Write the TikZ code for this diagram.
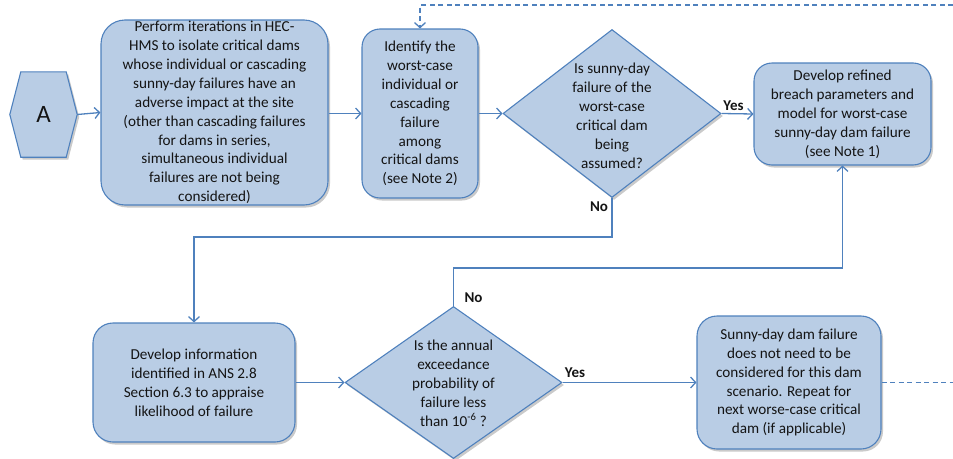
\documentclass[tikz,border=0pt]{standalone}
\usepackage{fontspec}
\setmainfont{Carlito}
\usetikzlibrary{arrows.meta,shapes.geometric,shadows}
\definecolor{boxfill}{HTML}{B9CDE5}
\definecolor{boxline}{HTML}{4F81BD}
\definecolor{txtc}{HTML}{141414}
\begin{document}
\begin{tikzpicture}[x=1pt,y=-1pt,
  every node/.style={font=\fontsize{15.2}{18.9}\selectfont, text=txtc},
  shad/.style={drop shadow={shadow xshift=2pt, shadow yshift=-2.5pt, opacity=0.35, fill=black!60}},
  box/.style={draw=boxline, fill=boxfill, line width=1.1pt, rounded corners=20pt, align=center, inner sep=0pt, shad},
  dia/.style={diamond, draw=boxline, fill=boxfill, line width=1.1pt, inner sep=0pt, shad},
  lbl/.style={align=center, inner sep=0pt},
  yn/.style={inner sep=0pt, font=\fontsize{15}{17}\selectfont\bfseries},
  conn/.style={draw=boxline, line width=1.3pt, -{Straight Barb[length=5pt,width=11pt]}},
  dconn/.style={conn, dash pattern=on 5pt off 3.5pt},
  dline/.style={draw=boxline, line width=1.3pt, dash pattern=on 5pt off 3.5pt}
]
\useasboundingbox (0,0) rectangle (953,458);

% hexagon A
\node[inner sep=0pt, minimum width=67pt, minimum height=85pt] (hexA) at (43.5,114.5) {};
\fill[black!60, opacity=0.35] ([xshift=2pt,yshift=-2.5pt]hexA.west) -- ([xshift=13pt,yshift=-2.5pt]hexA.north west) -- ([xshift=-9pt,yshift=-2.5pt]hexA.north east) -- ([xshift=2pt,yshift=-2.5pt]hexA.east) -- ([xshift=-9pt,yshift=-2.5pt]hexA.south east) -- ([xshift=13pt,yshift=-2.5pt]hexA.south west) -- cycle;
\draw[boxline, fill=boxfill, line width=1.1pt] (hexA.west) -- ([xshift=11pt]hexA.north west) -- ([xshift=-11pt]hexA.north east) -- (hexA.east) -- ([xshift=-11pt]hexA.south east) -- ([xshift=11pt]hexA.south west) -- cycle;
\node[inner sep=0pt, font=\fontsize{25}{28}\selectfont] (hexAt) at (hexA) {A};

% boxes
\node[box, minimum width=227pt, minimum height=185pt, rounded corners=24pt] (b1) at (214.5,112.5) {Perform iterations in HEC-\\HMS to isolate critical dams\\whose individual or cascading\\sunny-day failures have an\\adverse impact at the site\\(other than cascading failures\\for dams in series,\\simultaneous individual\\failures are not being\\considered)};
\node[box, minimum width=116pt, minimum height=169pt, rounded corners=18pt] (b2) at (420,113.5) {Identify the\\worst-case\\individual or\\cascading\\failure\\among\\critical dams\\(see Note 2)};
\node[box, minimum width=177pt, minimum height=102pt, rounded corners=18pt] (b3) at (842.5,114) {Develop refined\\breach parameters and\\model for worst-case\\sunny-day dam failure\\(see Note 1)};
\node[box, minimum width=202pt, minimum height=119pt, rounded corners=20pt] (b4) at (194,382.5) {Develop information\\identified in ANS 2.8\\Section 6.3 to appraise\\likelihood of failure};
\node[box, minimum width=184pt, minimum height=133pt, rounded corners=20pt] (b5) at (789,382.5) {Sunny-day dam failure\\does not need to be\\considered for this dam\\scenario. Repeat for\\next worse-case critical\\dam (if applicable)};

% diamonds
\node[dia, minimum width=218pt, minimum height=168pt] (d1) at (612,113.5) {};
\node[lbl] (d1t) at (612,116) {Is sunny-day\\failure of the\\worst-case\\critical dam\\being\\assumed?};
\node[dia, minimum width=217pt, minimum height=152pt] (d2) at (453.5,382.5) {};
\node[lbl] (d2t) at (453.5,383) {Is the annual\\exceedance\\probability of\\failure less\\than 10\textsuperscript{-6} ?};

% helper coordinates
\coordinate (topR) at (953,5);
\coordinate (botR) at (953,382.5);
\coordinate (j1) at (612,237);
\coordinate (j2) at (453.5,268);

% connectors
\draw[conn] (hexA.east) -- (b1.west);
\draw[conn] (b1.east |- b2.west) -- (b2.west);
\draw[conn] (b2.east) -- (d1.west);
\draw[conn] (d1.east) -- (b3.west);
\draw[conn] (d1.south) -- (j1) -| (b4.north);
\draw[conn] (b4.east) -- (d2.west);
\draw[conn] (d2.east) -- (b5.west);
\draw[conn] (d2.north) -- (j2) -| (b3.south);
\draw[dconn] (topR) -| (b2.north);
\draw[dline] (b5.east) -- (botR);

% labels
\node[yn] (y1) at (733.5,106) {Yes};
\node[yn] (n1) at (599,207) {No};
\node[yn] (n2) at (473.5,298) {No};
\node[yn] (y2) at (575,373) {Yes};
\end{tikzpicture}
\end{document}
